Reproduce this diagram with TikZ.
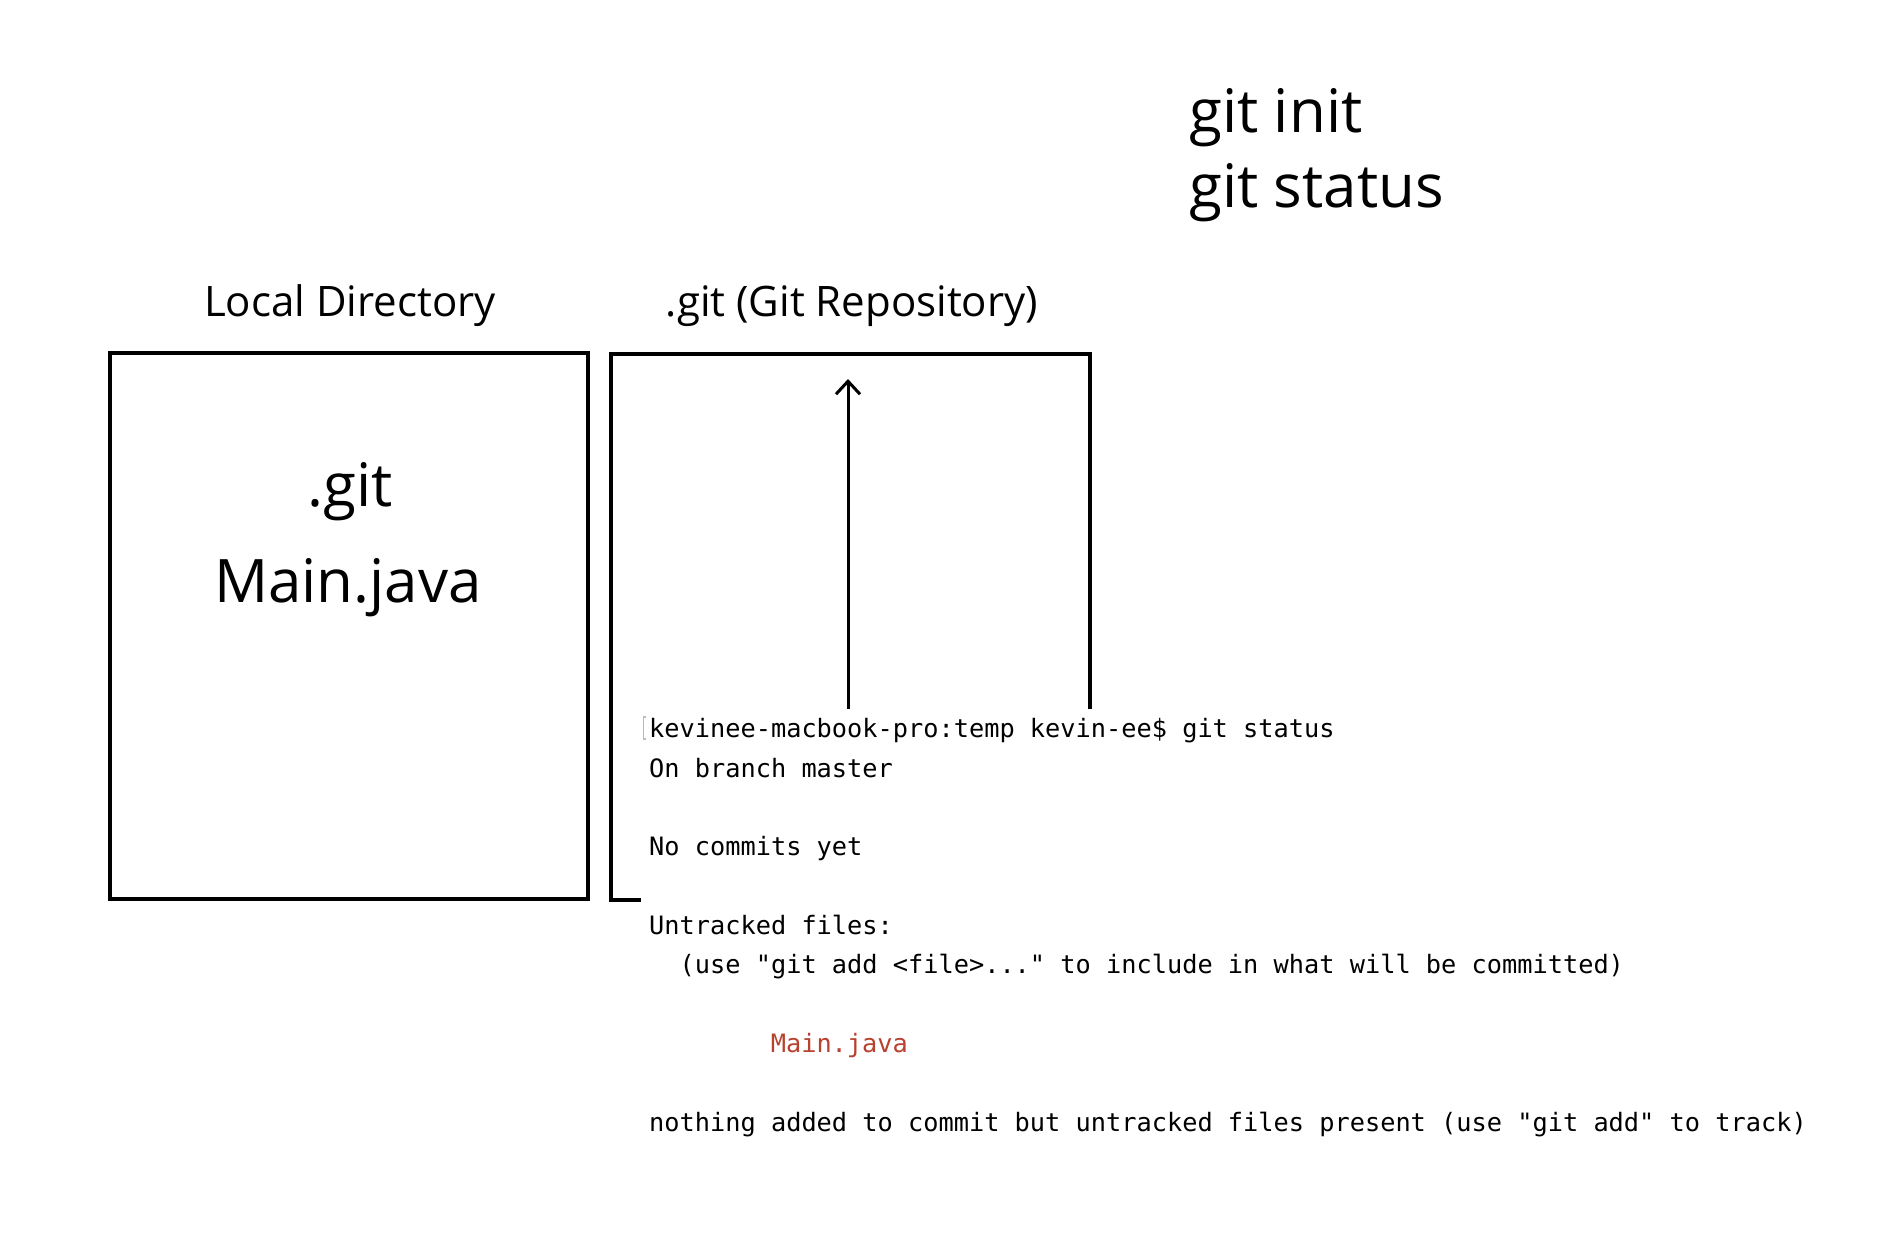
\documentclass[tikz,border=0pt]{standalone}
\usepackage{fontspec}
\setmainfont{Open Sans}
\newfontfamily\termfont{DejaVu Sans Mono}
\usetikzlibrary{arrows.meta}
\definecolor{termred}{HTML}{B8412F}
\definecolor{selgray}{HTML}{BBBBBB}
\begin{document}
\begin{tikzpicture}[x=1pt,y=-1pt,
  boxline/.style={line width=4pt},
  arrowline/.style={line width=3pt,-{Straight Barb[length=13pt,width=24pt]}},
  lbl/.style={anchor=base, inner sep=0pt, font=\fontsize{42}{50}\selectfont},
  big/.style={anchor=base, inner sep=0pt, font=\fontsize{60}{72}\selectfont},
  cmd/.style={anchor=base west, inner sep=0pt, font=\fontsize{60}{72}\selectfont},
  term/.style={anchor=base west, inner sep=0pt, font=\termfont\fontsize{25.3}{30}\selectfont}]
\useasboundingbox[fill=white] (0,0) rectangle (1900,1234);

% commands
\node[cmd] (init) at (1189,132) {git init};
\node[cmd] (status) at (1189,207) {git status};

% labels
\node[lbl] (locallbl) at (350,316) {Local Directory};
\node[lbl] (repolbl) at (852,316) {.git (Git Repository)};

% local directory box
\draw[boxline] (110,353) rectangle (588,899);
\node[big] (dotgit) at (350,506) {.git};
\node[big] (mainjava) at (348,602) {Main.java};

% repository box (open at the lower right)
\coordinate (rtopleft) at (611,354);
\coordinate (rtopright) at (1090,354);
\coordinate (rrightend) at (1090,709);
\coordinate (rbotleft) at (611,900);
\coordinate (rbotend) at (641,900);
\draw[boxline] (rrightend) -- (rtopright) -- (rtopleft) -- (rbotleft) -- (rbotend);

% arrow
\coordinate (arrbase) at (848,709);
\coordinate (arrtip) at (848,379);
\draw[arrowline] (arrbase) -- (arrtip);

% selection mark
\draw[selgray, line width=1.2pt] (646,717) -- (643.5,717) -- (643.5,739) -- (646,739);

% terminal output
\node[term] (t1) at (649,737) {kevinee-macbook-pro:temp kevin-ee\$ git status};
\node[term] (t2) at (649,777) {On branch master};
\node[term] (t3) at (649,855) {No commits yet};
\node[term] (t4) at (649,934) {Untracked files:};
\node[term] (t5) at (649,973) {\ \ (use "git add <file>..." to include in what will be committed)};
\node[term, text=termred] (t6) at (770.6,1052) {Main.java};
\node[term] (t7) at (649,1131) {nothing added to commit but untracked files present (use "git add" to track)};
\end{tikzpicture}
\end{document}
